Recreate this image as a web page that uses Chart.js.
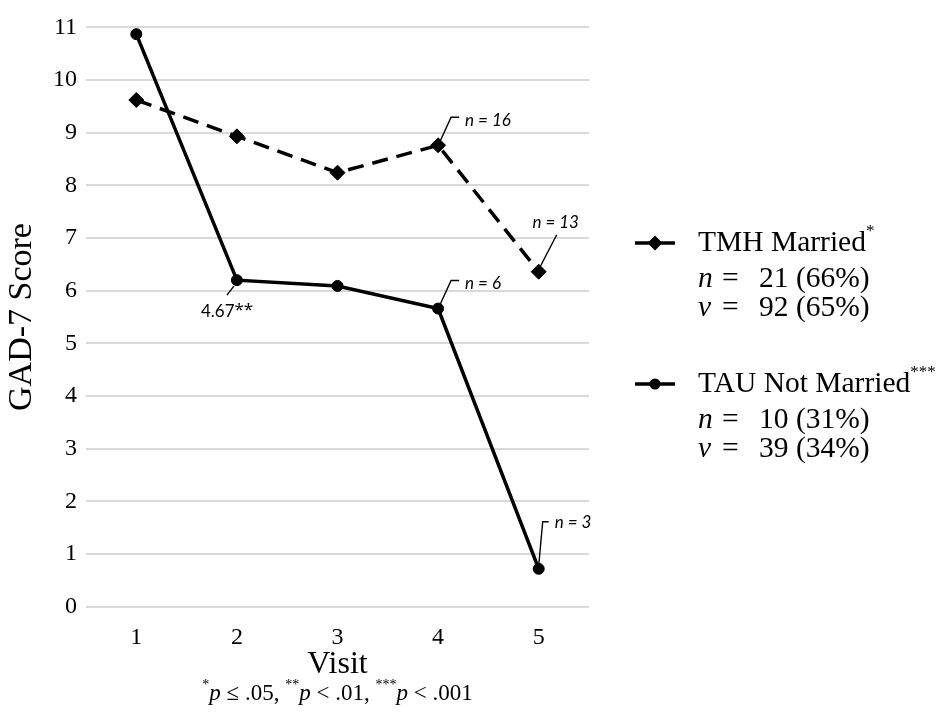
<!DOCTYPE html>
<html>
<head>
<meta charset="utf-8">
<script src="https://cdn.jsdelivr.net/npm/chart.js@4.4.1/dist/chart.umd.min.js"></script>
<style>
  html, body { margin: 0; padding: 0; background: #fff; }
  canvas { display: block; }
</style>
</head>
<body>
<canvas id="chart" width="939" height="719"></canvas>
<script>
// Visits on the x axis
const visits = ['1', '2', '3', '4', '5'];

// Mean GAD-7 score per visit
const tmhMarried    = [9.62, 8.93, 8.24, 8.76, 6.36];
const tauNotMarried = [10.87, 6.20, 6.09, 5.66, 0.72];

// Participants still contributing at a visit (shown only where it drops)
const tmhVisitN = [null, null, null, 16, 13];
const tauVisitN = [null, null, null, 6, 3];

// Legend details per group
const seriesNames   = ['TMH Married', 'TAU Not Married'];
const seriesSig     = ['*', '***'];
const participants  = [21, 10];
const participantPc = ['66%', '31%'];
const visitTotals   = [92, 39];
const visitTotalPc  = ['65%', '34%'];

// Y axis range
const yMin = 0;
const yMax = 11;
const yStep = 1;

const SERIF = '"Liberation Serif", "Times New Roman", serif';
const SANS = 'Lato, "Noto Sans", sans-serif';

// Draws a sequence of text runs on one line, optionally jumping to fixed x positions
function drawRuns(c, x, y, runs) {
  c.save();
  c.textBaseline = 'middle';
  c.textAlign = 'left';
  c.fillStyle = '#000';
  let cx = x;
  for (const r of runs) {
    if (r.x !== undefined) cx = r.x;
    c.font = r.font;
    c.fillText(r.text, cx, y + (r.dy || 0));
    cx += c.measureText(r.text).width;
  }
  c.restore();
}

function runsWidth(c, runs) {
  let w = 0;
  for (const r of runs) { c.font = r.font; w += c.measureText(r.text).width; }
  return w;
}

function leader(c, pts) {
  c.beginPath();
  c.moveTo(pts[0][0], pts[0][1]);
  for (let i = 1; i < pts.length; i++) c.lineTo(pts[i][0], pts[i][1]);
  c.stroke();
}

const notesPlugin = {
  id: 'notes',
  afterDraw(chart) {
    const c = chart.ctx;
    const area = chart.chartArea;
    const tmhPts = chart.getDatasetMeta(0).data;
    const tauPts = chart.getDatasetMeta(1).data;

    c.save();
    c.strokeStyle = '#000';
    c.lineWidth = 1.4;
    c.fillStyle = '#000';
    c.textBaseline = 'middle';

    // n labels at the later visits
    const nFont = 'italic 17px ' + SANS;
    const calloutUp = (p, txt) => {
      leader(c, [[p.x + 2, p.y - 4], [p.x + 13, p.y - 28], [p.x + 21, p.y - 28]]);
      c.font = nFont; c.textAlign = 'left';
      c.fillText(txt, p.x + 27, p.y - 25);
    };
    // TMH visit 4
    if (tmhVisitN[3] !== null) calloutUp(tmhPts[3], 'n = ' + tmhVisitN[3]);
    // TAU visit 4
    if (tauVisitN[3] !== null) calloutUp(tauPts[3], 'n = ' + tauVisitN[3]);
    // TMH visit 5 (label above the marker)
    if (tmhVisitN[4] !== null) {
      const p = tmhPts[4];
      leader(c, [[p.x + 2, p.y - 6], [p.x + 18, p.y - 37]]);
      c.font = nFont; c.textAlign = 'center';
      c.fillText('n = ' + tmhVisitN[4], p.x + 17, p.y - 49);
    }
    // TAU visit 5
    if (tauVisitN[4] !== null) {
      const p = tauPts[4];
      leader(c, [[p.x, p.y - 3], [p.x + 4, p.y - 47], [p.x + 10, p.y - 47]]);
      c.font = nFont; c.textAlign = 'left';
      c.fillText('n = ' + tauVisitN[4], p.x + 16, p.y - 46);
    }
    // Drop in TAU score between visit 1 and visit 2
    {
      const p = tauPts[1];
      const drop = (tauNotMarried[0] - tauNotMarried[1]).toFixed(2);
      leader(c, [[p.x - 3, p.y + 6], [p.x - 10, p.y + 15]]);
      drawRuns(c, p.x - 36, p.y + 31, [
        { text: drop, font: '17px ' + SANS },
        { text: '**', font: '17px "Noto Sans", sans-serif', dy: -1 }
      ]);
    }

    // Legend
    const symX0 = area.right + 46, symX1 = area.right + 86, txtX = area.right + 109;
    const eqX = txtX + 24, numX = txtX + 61;
    const big = '29.5px ' + SERIF, sup = '17px ' + SERIF, ital = 'italic 29.5px ' + SERIF;
    const groups = [
      { y: 243, dash: [16, 9], style: 'diamond' },
      { y: 384, dash: [], style: 'circle' }
    ];
    groups.forEach((g, i) => {
      // symbol
      c.save();
      c.lineWidth = 3.5;
      c.setLineDash(g.dash);
      c.beginPath(); c.moveTo(symX0, g.y); c.lineTo(symX1, g.y); c.stroke();
      c.setLineDash([]);
      const mx = (symX0 + symX1) / 2;
      c.beginPath();
      if (g.style === 'diamond') {
        const r = 7.5;
        c.moveTo(mx - r, g.y); c.lineTo(mx, g.y - r); c.lineTo(mx + r, g.y); c.lineTo(mx, g.y + r); c.closePath();
      } else {
        c.arc(mx, g.y, 5.5, 0, Math.PI * 2);
      }
      c.fill();
      c.restore();

      drawRuns(c, txtX, g.y, [
        { text: seriesNames[i], font: big },
        { text: seriesSig[i], font: sup, dy: -11 }
      ]);
      drawRuns(c, txtX, g.y + 36, [
        { text: 'n', font: ital },
        { text: '=', font: big, x: eqX },
        { text: participants[i] + ' (' + participantPc[i] + ')', font: big, x: numX }
      ]);
      drawRuns(c, txtX, g.y + 65, [
        { text: 'v', font: ital },
        { text: '=', font: big, x: eqX },
        { text: visitTotals[i] + ' (' + visitTotalPc[i] + ')', font: big, x: numX }
      ]);
    });

    // Significance footnote under the x axis title
    const fn = '23px ' + SERIF, fi = 'italic 23px ' + SERIF, fs = '14px ' + SERIF;
    const foot = [
      { text: '*', font: fs, dy: -9 }, { text: 'p', font: fi }, { text: ' \u2264 .05, ', font: fn },
      { text: '**', font: fs, dy: -9 }, { text: 'p', font: fi }, { text: ' < .01, ', font: fn },
      { text: '***', font: fs, dy: -9 }, { text: 'p', font: fi }, { text: ' < .001', font: fn }
    ];
    const fw = runsWidth(c, foot);
    drawRuns(c, (area.left + area.right) / 2 - fw / 2, 694, foot);

    c.restore();
  }
};

const tickFont = { family: SERIF, size: 24 };

new Chart(document.getElementById('chart'), {
  type: 'line',
  data: {
    labels: visits,
    datasets: [
      {
        label: seriesNames[0],
        data: tmhMarried,
        borderColor: '#000',
        backgroundColor: '#000',
        borderWidth: 3.5,
        borderDash: [16, 9],
        pointStyle: 'rectRot',
        pointRadius: 7.5,
        pointBorderWidth: 1,
        tension: 0,
        fill: false
      },
      {
        label: seriesNames[1],
        data: tauNotMarried,
        borderColor: '#000',
        backgroundColor: '#000',
        borderWidth: 3.5,
        pointStyle: 'circle',
        pointRadius: 5.5,
        pointBorderWidth: 1,
        tension: 0,
        fill: false
      }
    ]
  },
  options: {
    responsive: false,
    animation: false,
    devicePixelRatio: 1,
    layout: { padding: { left: 0, right: 350, top: 27.3, bottom: 0 } },
    plugins: {
      legend: { display: false },
      tooltip: { enabled: false }
    },
    scales: {
      x: {
        offset: true,
        grid: { display: false },
        border: { display: false },
        ticks: { font: tickFont, color: '#000', padding: 9 },
        title: {
          display: true, text: 'Visit', color: '#000',
          font: { family: SERIF, size: 32 },
          padding: { top: 0, bottom: 35 }
        },
        afterFit(s) { s.height = 112.3; }
      },
      y: {
        min: yMin,
        max: yMax,
        ticks: { stepSize: yStep, font: tickFont, color: '#000', padding: 9 },
        grid: { color: '#d9d9d9', lineWidth: 2, drawTicks: false },
        border: { display: false },
        title: {
          display: true, text: 'GAD-7 Score', color: '#000',
          font: { family: SERIF, size: 34 },
          padding: { top: 2, bottom: 0 }
        },
        afterFit(s) { s.width = 86; }
      }
    }
  },
  plugins: [notesPlugin]
});
</script>
</body>
</html>
